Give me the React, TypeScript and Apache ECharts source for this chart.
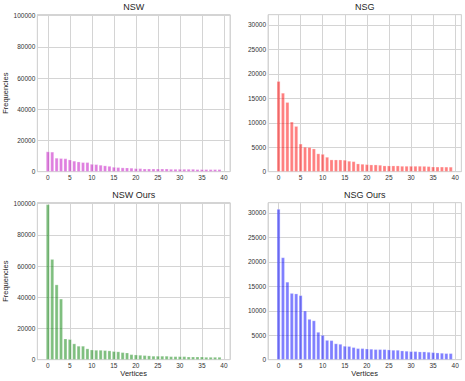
import React, { useEffect, useRef } from 'react';
import * as echarts from 'echarts';

const W = 465;
const H = 381;

const vertices = Array.from({ length: 40 }, (_, i) => i);

const nswValues = [12900, 12700, 8800, 8600, 8400, 7700, 6900, 6400, 6000, 6000, 4900, 4700, 4300, 3900, 3600, 3000, 2800, 2600, 2600, 2400, 2100, 2100, 1900, 1900, 1900, 1900, 1900, 1900, 1700, 1700, 1700, 1700, 1700, 1700, 1500, 1500, 1500, 1500, 1500, 1500];
const nsgValues = [18500, 16100, 14200, 10200, 9300, 5700, 5050, 5000, 4700, 3700, 3600, 3000, 2460, 2450, 2450, 2400, 2190, 2100, 1640, 1570, 1500, 1430, 1430, 1370, 1230, 1230, 1230, 1230, 1160, 1160, 1160, 1160, 1160, 1140, 1090, 1020, 1000, 1000, 990, 980];
const nswOursValues = [99500, 64400, 48100, 39000, 13500, 13100, 10300, 8800, 8800, 7100, 6400, 6200, 6200, 6000, 5800, 5400, 5200, 4700, 4500, 3400, 3200, 3000, 2800, 2600, 2400, 2400, 2400, 2400, 2100, 2100, 2100, 2100, 1900, 1900, 1900, 1900, 1700, 1700, 1700, 1700];
const nsgOursValues = [30800, 20900, 15900, 13600, 13500, 13150, 10000, 8300, 8000, 5650, 5030, 4000, 3950, 3300, 3200, 2800, 2750, 2530, 2320, 2320, 2250, 2190, 2120, 2120, 2120, 2050, 1980, 1980, 1840, 1780, 1710, 1710, 1640, 1640, 1570, 1500, 1430, 1370, 1300, 1300];

const titles = ['NSW', 'NSG', 'NSW Ours', 'NSG Ours'];
const colors = ['rgba(191,0,191,0.5)', 'rgba(255,0,0,0.5)', 'rgba(0,128,0,0.5)', 'rgba(0,0,255,0.5)'];
const seriesValues = [nswValues, nsgValues, nswOursValues, nsgOursValues];
const yMaxes = [100600, 32100, 100600, 32100];
const yIntervals = [20000, 5000, 20000, 5000];
const xLabel = 'Vertices';
const yLabel = 'Frequencies';

const X_MIN = -2.39;
const X_MAX = 41.39;
const FONT = '"Liberation Sans", Arial, sans-serif';
const TEXT = '#262626';
const GRID_C = '#d4d4d4';

const rects = [
  { left: 37.3, top: 14.7, width: 192.7, height: 157 },
  { left: 268, top: 14.7, width: 193.3, height: 157 },
  { left: 37.3, top: 202.7, width: 192.7, height: 157 },
  { left: 268, top: 202.7, width: 193.3, height: 157 },
];

export default function App() {
  const ref = useRef<HTMLDivElement>(null);
  useEffect(() => {
    if (!ref.current) return;
    const chart = echarts.init(ref.current, null, { renderer: 'svg' });
    const grid: any[] = [];
    const xAxis: any[] = [];
    const yAxis: any[] = [];
    const series: any[] = [];
    const title: any[] = [];
    rects.forEach((r, i) => {
      grid.push({
        left: r.left, top: r.top, width: r.width, height: r.height,
        show: true, borderColor: GRID_C, borderWidth: 1, backgroundColor: 'transparent',
        containLabel: false,
      });
      title.push({
        text: titles[i],
        left: r.left + r.width / 2,
        textAlign: 'center',
        top: r.top - 12.5,
        padding: 0,
        textStyle: { fontFamily: FONT, fontSize: 9, fontWeight: 'normal', color: TEXT },
      });
      const bottomRow = i >= 2;
      const leftCol = i % 2 === 0;
      xAxis.push({
        type: 'value', gridIndex: i, min: X_MIN, max: X_MAX,
        minInterval: 5, maxInterval: 5,
        axisLine: { show: false }, axisTick: { show: false },
        splitLine: { show: true, lineStyle: { color: GRID_C, width: 1 } },
        axisLabel: {
          fontFamily: FONT, fontSize: 6.5, color: '#333', margin: 2,
          formatter: (v: number) => (Math.abs(v % 5) < 1e-9 ? String(v) : ''),
        },
        name: bottomRow ? xLabel : '',
        nameLocation: 'middle', nameGap: 6.5,
        nameTextStyle: { fontFamily: FONT, fontSize: 7.5, color: TEXT },
      });
      const yi = yIntervals[i];
      yAxis.push({
        type: 'value', gridIndex: i, min: 0, max: yMaxes[i],
        minInterval: yi, maxInterval: yi,
        axisLine: { show: false }, axisTick: { show: false },
        splitLine: { show: true, lineStyle: { color: GRID_C, width: 1 } },
        axisLabel: {
          fontFamily: FONT, fontSize: 6.5, color: '#333', margin: 2,
          formatter: (v: number) => (Math.abs(v % yi) < 1e-9 ? String(v) : ''),
        },
        name: leftCol ? yLabel : '',
        nameLocation: 'middle', nameGap: 23, nameRotate: 90,
        nameTextStyle: { fontFamily: FONT, fontSize: 7.5, color: TEXT },
      });
      const bw = (r.width / (X_MAX - X_MIN)) * 0.8;
      series.push({
        type: 'bar', xAxisIndex: i, yAxisIndex: i,
        data: vertices.map((v, k) => [v, seriesValues[i][k]]),
        barWidth: bw,
        clip: false,
        itemStyle: { color: colors[i], borderColor: 'rgba(255,255,255,0.5)', borderWidth: 0.5 },
        emphasis: { disabled: true },
      });
    });
    chart.setOption({
      animation: false,
      backgroundColor: '#ffffff',
      title, grid, xAxis, yAxis, series,
    });
    return () => chart.dispose();
  }, []);
  return <div ref={ref} style={{ position: 'fixed', left: 0, top: 0, width: W, height: H }} />;
}
